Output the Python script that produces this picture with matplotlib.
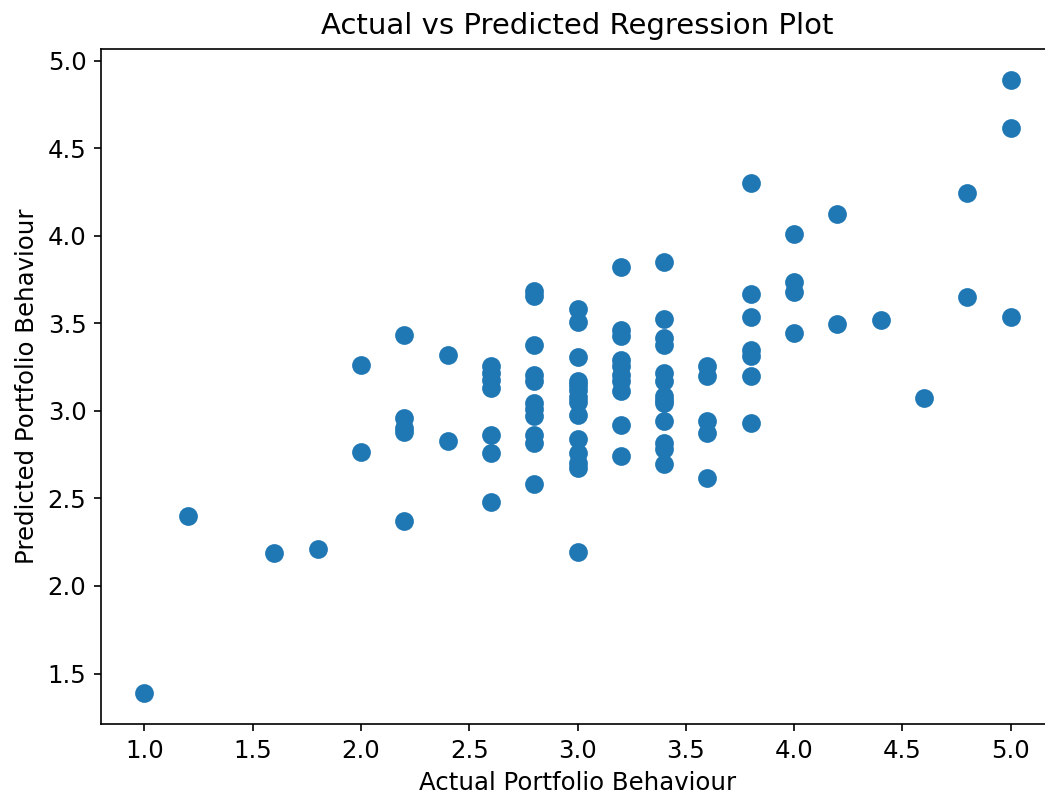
import matplotlib
matplotlib.use("Agg")
import matplotlib.pyplot as plt

# Actual values (x) grouped by column, with predicted values (y)
actual = (
    [1.0] + [1.2] + [1.6] + [1.8]
    + [2.0] * 2
    + [2.2] * 5
    + [2.4] * 2
    + [2.6] * 7
    + [2.8] * 11
    + [3.0] * 14
    + [3.2] * 10
    + [3.4] * 13
    + [3.6] * 5
    + [3.8] * 7
    + [4.0] * 4
    + [4.2] * 2
    + [4.4]
    + [4.6]
    + [4.8] * 2
    + [5.0] * 3
)
predicted = (
    [1.387] + [2.397] + [2.186] + [2.209]
    + [3.265, 2.768]
    + [3.436, 2.957, 2.905, 2.880, 2.369]
    + [3.320, 2.827]
    + [3.255, 3.217, 3.179, 3.132, 2.860, 2.761, 2.479]
    + [3.683, 3.655, 3.375, 3.208, 3.170, 3.046, 3.012, 2.970, 2.865, 2.818, 2.584]
    + [3.583, 3.508, 3.309, 3.170, 3.150, 3.120, 3.080, 3.053, 2.979, 2.837, 2.761, 2.704, 2.675, 2.194]
    + [3.822, 3.465, 3.426, 3.293, 3.255, 3.208, 3.170, 3.113, 2.922, 2.741]
    + [3.849, 3.527, 3.417, 3.379, 3.217, 3.170, 3.084, 3.046, 2.941, 2.818, 2.780, 2.694, 3.060]
    + [3.255, 3.202, 2.941, 2.875, 2.618]
    + [4.304, 3.668, 3.535, 3.350, 3.316, 3.202, 2.932]
    + [4.013, 3.735, 3.680, 3.446]
    + [4.127, 3.499]
    + [3.522]
    + [3.071]
    + [4.247, 3.653]
    + [4.892, 4.618, 3.539]
)

fig = plt.figure(figsize=(1045 / 150, 799 / 150), dpi=150)
ax = fig.add_axes([101 / 1045, 75 / 799, (1054 - 101) / 1045, (724 - 49) / 799])
ax.scatter(actual, predicted, s=64, color="#1f77b4")
ax.spines["right"].set_visible(False)
ax.set_title("Actual vs Predicted Regression Plot", fontsize=14, pad=7)
ax.set_xlabel("Actual Portfolio Behaviour", fontsize=11.7)
ax.set_ylabel("Predicted Portfolio Behaviour", fontsize=11.7)
ax.tick_params(labelsize=11.7)
fig.savefig("out.png", dpi=150)
